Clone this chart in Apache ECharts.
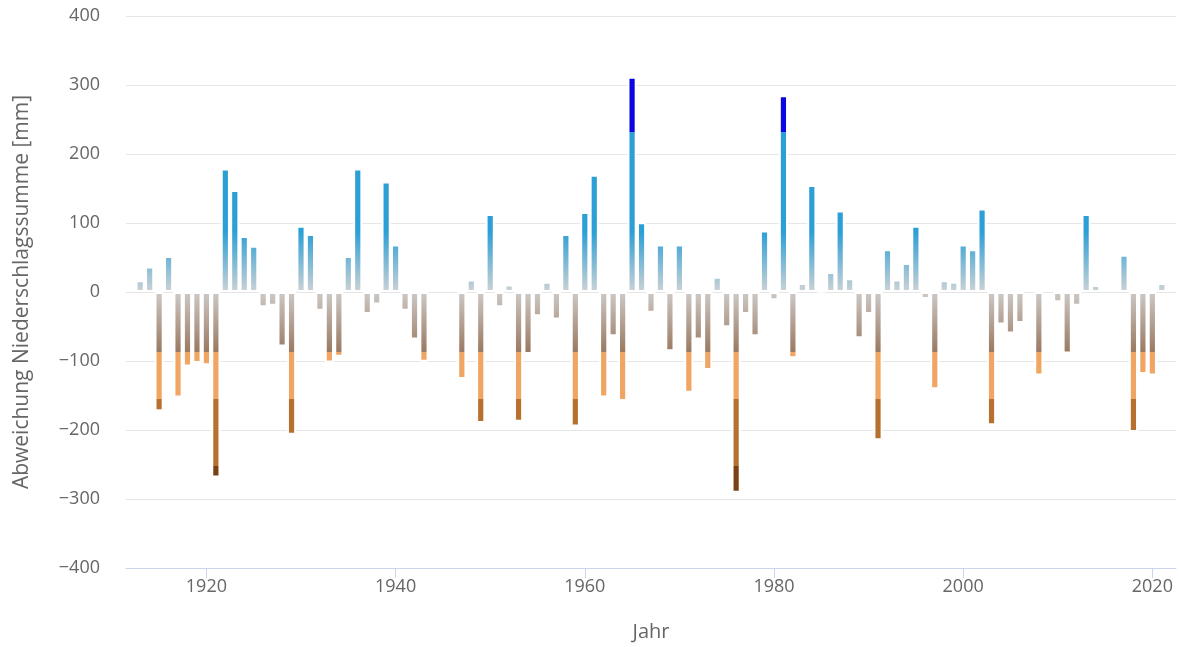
<!DOCTYPE html>
<html>
<head>
<meta charset="utf-8">
<script src="https://cdn.jsdelivr.net/npm/echarts@6/dist/echarts.min.js"></script>
<style>
  html, body { margin: 0; padding: 0; background: #fff; }
  #chart { width: 1179px; height: 647px; }
</style>
</head>
<body>
<div id="chart"></div>
<script>
// ---- Data ----
const years = [];
for (let y = 1912; y <= 2022; y++) years.push(String(y));

const deviation = [
  null, 17, 37, -173, 52, -153, -108, -103, -106, -269,   // 1912-1921
  179, 148, 81, 67, -22, -20, -79, -207, 96, 84,          // 1922-1931
  -27, -102, -94, 52, 179, -32, -18, 160, 69, -27,        // 1932-1941
  -69, -101, null, null, null, -126, 18, -190, 113, -22,  // 1942-1951
  11, -188, -90, -35, 15, -40, 84, -195, 116, 170,        // 1952-1961
  -153, -64, -158, 312, 101, -30, 69, -86, 69, -146,      // 1962-1971
  -69, -113, 22, -51, -291, -32, -64, 89, -12, 285,       // 1972-1981
  -96, 13, 155, 1, 29, 118, 20, -67, -32, -215,           // 1982-1991
  62, 18, 42, 96, -10, -141, 17, 15, 69, 62,              // 1992-2001
  121, -193, -47, -60, -45, 3, -121, 4, -15, -89,         // 2002-2011
  -20, 113, 10, null, null, 54, -203, -119, -121, 13,     // 2012-2021
  null                                                     // 2022
];

const yTickLabels = [-400, -300, -200, -100, 0, 100, 200, 300, 400];
const xLabelYears = ['1920', '1940', '1960', '1980', '2000', '2020'];

// ---- Styling ----
const textColor = '#666666';
const fontFamily = '"Open Sans", "DejaVu Sans", sans-serif';
const yMin = -400, yMax = 400;

function stopsFor() {
  const off = v => (yMax - v) / (yMax - yMin);
  return [
    { offset: 0, color: '#0b05e2' },
    { offset: off(232), color: '#0b05e2' },
    { offset: off(232) + 0.0001, color: '#2b9fd6' },
    { offset: off(88), color: '#2b9fd6' },
    { offset: off(0), color: '#ccd2d5' },
    { offset: off(0) + 0.0001, color: '#cdc9c6' },
    { offset: off(-87), color: '#9a7961' },
    { offset: off(-87) + 0.0001, color: '#f0a562' },
    { offset: off(-155), color: '#f0a562' },
    { offset: off(-155) + 0.0001, color: '#b7712f' },
    { offset: off(-252), color: '#b7712f' },
    { offset: off(-252) + 0.0001, color: '#7a4214' },
    { offset: 1, color: '#7a4214' }
  ];
}

const chart = echarts.init(document.getElementById('chart'), null, { renderer: 'canvas' });

const option = {
  animation: false,
  backgroundColor: '#ffffff',
  grid: { left: 126, right: 3, top: 16, bottom: 78, containLabel: false },
  xAxis: {
    type: 'category',
    data: years,
    boundaryGap: true,
    axisLine: { show: true, onZero: false, lineStyle: { color: '#ccd6eb', width: 1 } },
    axisTick: {
      show: true, alignWithLabel: true, length: 10,
      lineStyle: { color: '#ccd6eb' },
      interval: (idx, val) => xLabelYears.indexOf(val) >= 0
    },
    axisLabel: {
      interval: (idx, val) => xLabelYears.indexOf(val) >= 0,
      color: textColor, fontSize: 18, fontFamily: fontFamily, margin: 10
    },
    splitLine: { show: false },
    name: 'Jahr',
    nameLocation: 'middle',
    nameGap: 54,
    nameTextStyle: { color: textColor, fontSize: 20, fontFamily: fontFamily }
  },
  yAxis: {
    type: 'value',
    min: yTickLabels[0],
    max: yTickLabels[yTickLabels.length - 1],
    interval: 100,
    axisLine: { show: false },
    axisTick: { show: false },
    axisLabel: {
      color: textColor, fontSize: 18, fontFamily: fontFamily, margin: 26,
      formatter: v => String(v).replace('-', '\u2212')
    },
    splitLine: { show: true, lineStyle: { color: '#e6e6e6', width: 1 } },
    name: 'Abweichung Niederschlagssumme [mm]',
    nameLocation: 'middle',
    nameGap: 93,
    nameTextStyle: { color: textColor, fontSize: 21, fontFamily: fontFamily }
  },
  series: [{
    type: 'bar',
    data: deviation,
    barWidth: 9.2,
    itemStyle: { color: '#2b9fd6', borderColor: '#ffffff', borderWidth: 2 },
    emphasis: { disabled: true }
  }]
};

chart.setOption(option);

const pTop = chart.convertToPixel({ yAxisIndex: 0 }, yMax);
const pBot = chart.convertToPixel({ yAxisIndex: 0 }, yMin);
chart.setOption({
  series: [{
    itemStyle: {
      color: new echarts.graphic.LinearGradient(0, pTop, 0, pBot, stopsFor(), true)
    }
  }]
});
</script>
</body>
</html>
